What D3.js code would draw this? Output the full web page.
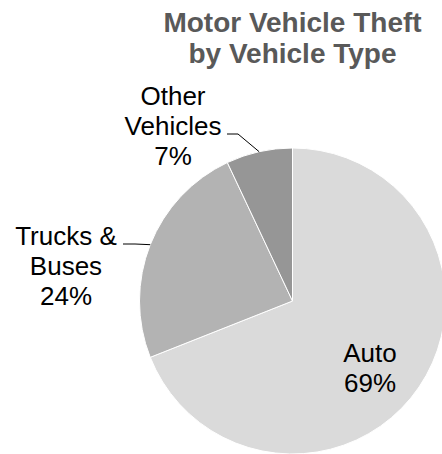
<!DOCTYPE html>
<html>
<head>
<meta charset="utf-8">
<script src="https://cdn.jsdelivr.net/npm/d3@7"></script>
<style>
  html, body { margin: 0; padding: 0; background: #fff; }
  svg { display: block; }
</style>
</head>
<body>
<div id="chart"></div>
<script>
const categories = ["Auto", "Trucks & Buses", "Other Vehicles"];
const values = [69, 24, 7];
const labelLines = [["Auto", "69%"], ["Trucks &", "Buses", "24%"], ["Other", "Vehicles", "7%"]];
const titleLines = ["Motor Vehicle Theft", "by Vehicle Type"];
const colors = ["#dadada", "#b3b3b3", "#969696"];

const W = 442, H = 454;
const cx = 292.5, cy = 301, R = 153;

const svg = d3.select("#chart").append("svg").attr("width", W).attr("height", H);

const pie = d3.pie().sort(null).value(d => d);
const arcs = pie(values);
const arc = d3.arc().innerRadius(0).outerRadius(R);

const g = svg.append("g").attr("transform", `translate(${cx},${cy})`);
g.selectAll("path").data(arcs).join("path")
  .attr("d", arc)
  .attr("fill", (d, i) => colors[i])
  .attr("stroke", "#fff")
  .attr("stroke-width", 1);

// title
svg.append("text")
  .attr("x", 292.5).attr("y", 32)
  .attr("text-anchor", "middle")
  .attr("font-family", "'Liberation Sans', Arial, sans-serif")
  .attr("font-weight", "bold")
  .attr("font-size", 28)
  .attr("fill", "#595959")
  .selectAll("tspan").data(titleLines).join("tspan")
  .attr("x", 292.5).attr("dy", (d, i) => i === 0 ? 0 : 31)
  .text(d => d);

// label layout (positions of text blocks, first baseline)
const labelPos = [
  { x: 370, y: 362, leader: null },
  { x: 66, y: 245, leader: { lineIdx: 0, startX: 123, elbowX: 135 } },
  { x: 173, y: 105, leader: { lineIdx: 1, startX: 227, elbowX: 238 } }
];
const lineH = 30;
const fontSize = 26;

arcs.forEach((a, i) => {
  const p = labelPos[i];
  const t = svg.append("text")
    .attr("text-anchor", "middle")
    .attr("font-family", "'Liberation Sans', Arial, sans-serif")
    .attr("font-size", fontSize)
    .attr("fill", "#000");
  labelLines[i].forEach((ln, j) => {
    t.append("tspan").attr("x", p.x).attr("y", p.y + j * lineH).text(ln);
  });
  if (p.leader) {
    const mid = (a.startAngle + a.endAngle) / 2;
    const ex = cx + R * Math.sin(mid);
    const ey = cy - R * Math.cos(mid);
    const ly = p.y + p.leader.lineIdx * lineH - 1;
    svg.append("path")
      .attr("d", `M${p.leader.startX},${ly}L${p.leader.elbowX},${ly}L${ex},${ey}`)
      .attr("fill", "none")
      .attr("stroke", "#000")
      .attr("stroke-width", 1);
  }
});
</script>
</body>
</html>
